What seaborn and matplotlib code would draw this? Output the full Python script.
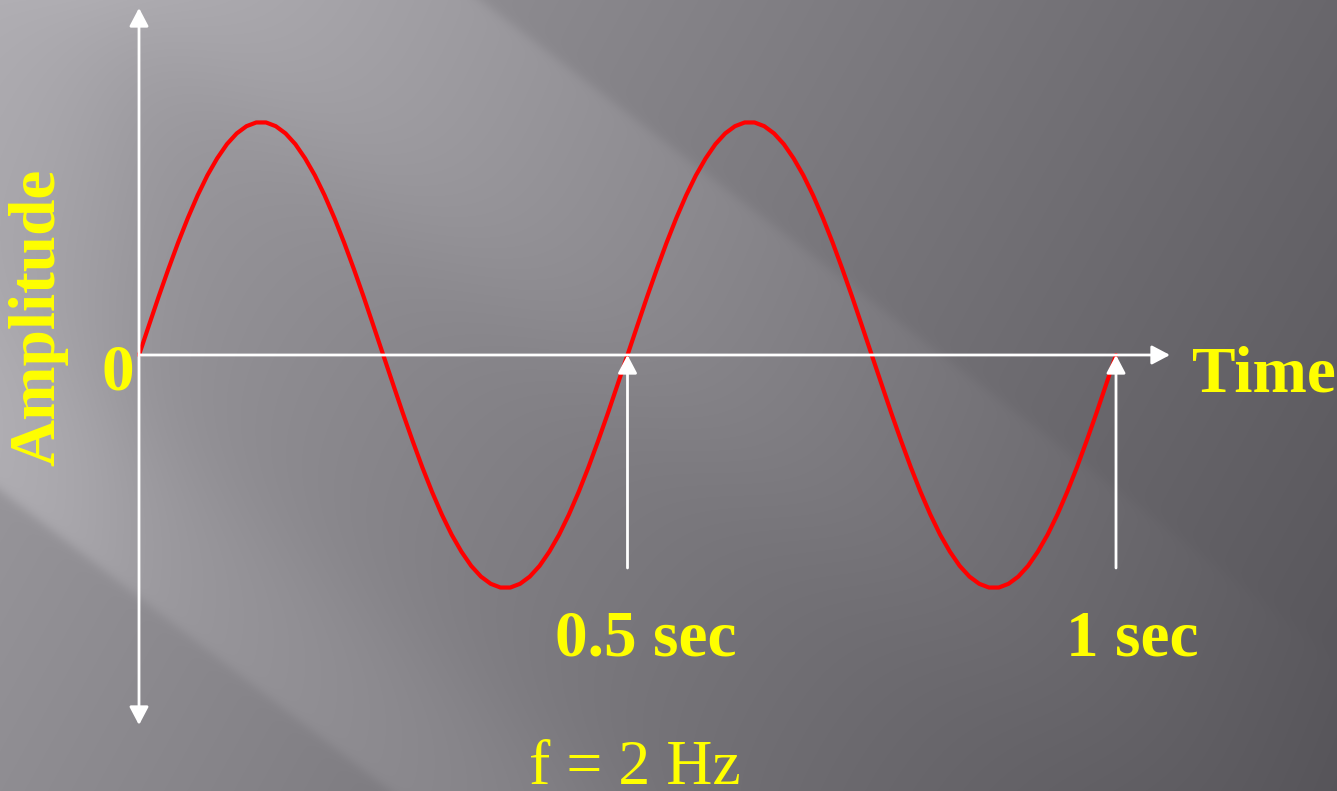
import numpy as np
import matplotlib
matplotlib.use('Agg')
import matplotlib.pyplot as plt
import seaborn as sns
from matplotlib.patches import FancyArrowPatch

# ============================================================
# Data: one second of a 2 Hz wave
# ============================================================
time_s = [
    0.00, 0.01, 0.02, 0.03, 0.04, 0.05, 0.06, 0.07, 0.08, 0.09,
    0.10, 0.11, 0.12, 0.13, 0.14, 0.15, 0.16, 0.17, 0.18, 0.19,
    0.20, 0.21, 0.22, 0.23, 0.24, 0.25, 0.26, 0.27, 0.28, 0.29,
    0.30, 0.31, 0.32, 0.33, 0.34, 0.35, 0.36, 0.37, 0.38, 0.39,
    0.40, 0.41, 0.42, 0.43, 0.44, 0.45, 0.46, 0.47, 0.48, 0.49,
    0.50, 0.51, 0.52, 0.53, 0.54, 0.55, 0.56, 0.57, 0.58, 0.59,
    0.60, 0.61, 0.62, 0.63, 0.64, 0.65, 0.66, 0.67, 0.68, 0.69,
    0.70, 0.71, 0.72, 0.73, 0.74, 0.75, 0.76, 0.77, 0.78, 0.79,
    0.80, 0.81, 0.82, 0.83, 0.84, 0.85, 0.86, 0.87, 0.88, 0.89,
    0.90, 0.91, 0.92, 0.93, 0.94, 0.95, 0.96, 0.97, 0.98, 0.99,
    1.00,
]
amplitude = [
    0.0, 0.125, 0.249, 0.368, 0.482, 0.588, 0.685, 0.771, 0.844, 0.905,
    0.951, 0.982, 0.998, 0.998, 0.982, 0.951, 0.905, 0.844, 0.771, 0.685,
    0.588, 0.482, 0.368, 0.249, 0.125, 0.0, -0.125, -0.249, -0.368, -0.482,
    -0.588, -0.685, -0.771, -0.844, -0.905, -0.951, -0.982, -0.998, -0.998, -0.982,
    -0.951, -0.905, -0.844, -0.771, -0.685, -0.588, -0.482, -0.368, -0.249, -0.125,
    0.0, 0.125, 0.249, 0.368, 0.482, 0.588, 0.685, 0.771, 0.844, 0.905,
    0.951, 0.982, 0.998, 0.998, 0.982, 0.951, 0.905, 0.844, 0.771, 0.685,
    0.588, 0.482, 0.368, 0.249, 0.125, 0.0, -0.125, -0.249, -0.368, -0.482,
    -0.588, -0.685, -0.771, -0.844, -0.905, -0.951, -0.982, -0.998, -0.998, -0.982,
    -0.951, -0.905, -0.844, -0.771, -0.685, -0.588, -0.482, -0.368, -0.249, -0.125,
    0.0,
]
marker_times = [0.5, 1.0]
marker_labels = ['0.5 sec', '1 sec']
freq_label = 'f = 2 Hz'

sns.set_style('white')
plt.rcParams['font.family'] = ['Liberation Serif', 'DejaVu Serif']

W, H = 1337, 791
fig = plt.figure(figsize=(W / 100, H / 100), dpi=100)

# ============================================================
# Slide background: grey gradient with soft diagonal streaks
# ============================================================
yy, xx = np.mgrid[0:H, 0:W].astype(float)
u = yy - 0.77 * xx
sig = lambda z: 1.0 / (1.0 + np.exp(-np.clip(z, -50, 50)))
base = 160 - 0.043 * xx - 0.024 * yy
streak1 = 24 * np.clip(1 - xx / 1400, 0, 1) * sig((u + 370) / 4) * sig((-90 - u) / 45)
streak2 = 13 * sig((490 - u) / 4) * sig((u - 330) / 40)
left_glow = 12 * sig((110 - xx) / 35) * sig((490 - u) / 4)
v = base + streak1 + streak2 + left_glow
bg = np.clip(np.dstack([v + 2, v, v + 5]) / 255.0, 0, 1)

ax_bg = fig.add_axes([0, 0, 1, 1])
ax_bg.imshow(bg, aspect='auto', interpolation='bilinear')
ax_bg.axis('off')

# ============================================================
# Wave axes (mapped so that 1 s = 977 px, amplitude 1 = 233 px)
# ============================================================
ax = fig.add_axes([0, 0, 1, 1])
ax.patch.set_alpha(0)
x0, px_per_s = 139, 977
y0, px_per_amp = 355, 233
ax.set_xlim(-x0 / px_per_s, (W - x0) / px_per_s)
ax.set_ylim((y0 - H) / px_per_amp, y0 / px_per_amp)
ax.axis('off')

sns.lineplot(x=time_s, y=amplitude, color='#ff0000', linewidth=3,
             estimator=None, sort=False, ax=ax, zorder=3)
ax.lines[-1].set_solid_joinstyle('round')

arrow_kw = dict(color='white', linewidth=2, mutation_scale=1,
                shrinkA=0, shrinkB=0, zorder=4)
head = 'head_length=11,head_width=5.8'
# vertical amplitude axis (arrows both ends)
ax.add_patch(FancyArrowPatch((0, (y0 - 725) / px_per_amp), (0, (y0 - 8) / px_per_amp),
                             arrowstyle='<|-|>,' + head, **arrow_kw))
# time axis
ax.add_patch(FancyArrowPatch((0, 0), ((1170 - x0) / px_per_s, 0),
                             arrowstyle='-|>,' + head, **arrow_kw))
# marker arrows at 0.5 s and 1 s
for t in marker_times:
    ax.add_patch(FancyArrowPatch((t, (y0 - 568) / px_per_amp), (t, 0),
                                 arrowstyle='-|>,' + head, **arrow_kw))

# ============================================================
# Labels
# ============================================================
yellow = '#ffff00'
ax.text(-0.0215, -0.15, '0', color=yellow, fontsize=47, fontweight='bold',
        ha='center', va='baseline')
ax.text(1.0778, -0.158, 'Time', color=yellow, fontsize=47, fontweight='bold',
        ha='left', va='baseline')
for t, lab, dx in zip(marker_times, marker_labels, [0.019, 0.0164]):
    ax.text(t + dx, -1.29, lab, color=yellow, fontsize=47, fontweight='bold',
            ha='center', va='baseline')
ax.text(0.5077, -1.84, freq_label, color=yellow, fontsize=46,
        ha='center', va='baseline')
ax.text(-0.1025, 0.16, 'Amplitude', color=yellow, fontsize=47, fontweight='bold',
        rotation=90, ha='center', va='center')

plt.savefig('out.png', dpi=100)
